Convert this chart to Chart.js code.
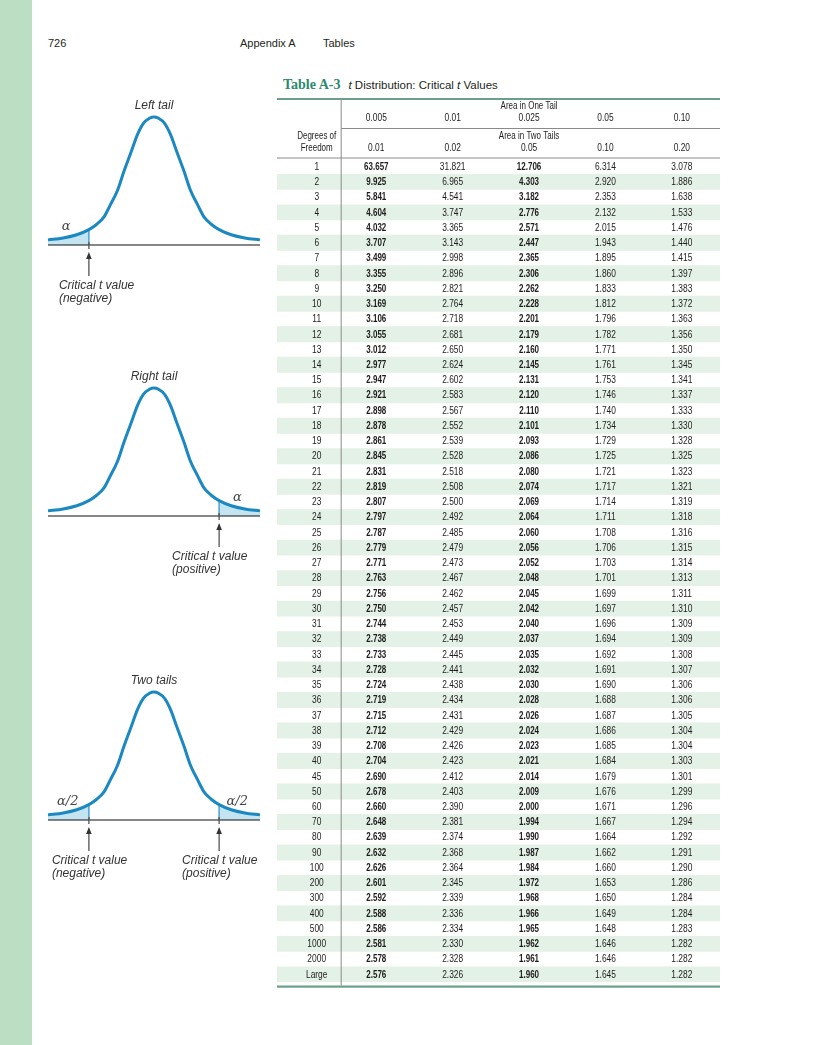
<!DOCTYPE html>
<html>
<head>
<meta charset="utf-8">
<script src="https://cdn.jsdelivr.net/npm/chart.js@4.4.1/dist/chart.umd.min.js"></script>
<style>
body { margin: 0; width: 816px; height: 1045px; position: relative; background: #fff; overflow: hidden;
       font-family: "Liberation Sans", Arial, sans-serif; color: #231f20; }
#strip { position: absolute; left: 0; top: 0; width: 32px; height: 1045px; background: #bcdfc3; }
.hdr { position: absolute; top: 37px; font-size: 11px; }
#title { position: absolute; left: 283px; top: 77px; font-size: 11.5px; white-space: nowrap; }
#title b { font-family: "Liberation Serif", serif; color: #2b8a6c; font-size: 14px; margin-right: 8px; }
canvas { position: absolute; }
</style>
</head>
<body>
<div id="strip"></div>
<div class="hdr" style="left:48px">726</div>
<div class="hdr" style="left:240px">Appendix A</div>
<div class="hdr" style="left:323px">Tables</div>
<div id="title"><b>Table A-3</b><i>t</i> Distribution: Critical <i>t</i> Values</div>

<canvas id="leftTailChart" width="230" height="215" style="left:40px;top:95px"></canvas>
<canvas id="rightTailChart" width="230" height="215" style="left:40px;top:366px"></canvas>
<canvas id="twoTailChart" width="230" height="215" style="left:40px;top:670px"></canvas>
<canvas id="tTableChart" width="460" height="905" style="left:270px;top:90px"></canvas>

<script>
// bell curve (relative height, peak = 1)
const curveX = [-3.5, -3.0, -2.55, -2.15, -1.9, -1.65, -1.45, -1.2, -1.0, -0.75, -0.55, -0.35, -0.15, 0,
                0.15, 0.35, 0.55, 0.75, 1.0, 1.2, 1.45, 1.65, 1.9, 2.15, 2.55, 3.0, 3.5];
const curveY = [0.04, 0.055, 0.08, 0.12, 0.16, 0.22, 0.31, 0.43, 0.57, 0.73, 0.86, 0.95, 0.99, 1.0,
                0.99, 0.95, 0.86, 0.73, 0.57, 0.43, 0.31, 0.22, 0.16, 0.12, 0.08, 0.055, 0.04];
const critX = 2.15;
const critY = 0.12;

// table A-3
const oneTail = ['0.005', '0.01', '0.025', '0.05', '0.10'];
const twoTails = ['0.01', '0.02', '0.05', '0.10', '0.20'];
const dfLabels = ['1','2','3','4','5','6','7','8','9','10','11','12','13','14','15','16','17','18','19','20',
                  '21','22','23','24','25','26','27','28','29','30','31','32','33','34','35','36','37','38','39','40',
                  '45','50','60','70','80','90','100','200','300','400','500','1000','2000','Large'];
const t005 = [63.657, 9.925, 5.841, 4.604, 4.032, 3.707, 3.499, 3.355, 3.250, 3.169, 3.106, 3.055, 3.012, 2.977,
              2.947, 2.921, 2.898, 2.878, 2.861, 2.845, 2.831, 2.819, 2.807, 2.797, 2.787, 2.779, 2.771, 2.763,
              2.756, 2.750, 2.744, 2.738, 2.733, 2.728, 2.724, 2.719, 2.715, 2.712, 2.708, 2.704, 2.690, 2.678,
              2.660, 2.648, 2.639, 2.632, 2.626, 2.601, 2.592, 2.588, 2.586, 2.581, 2.578, 2.576];
const t01 = [31.821, 6.965, 4.541, 3.747, 3.365, 3.143, 2.998, 2.896, 2.821, 2.764, 2.718, 2.681, 2.650, 2.624,
             2.602, 2.583, 2.567, 2.552, 2.539, 2.528, 2.518, 2.508, 2.500, 2.492, 2.485, 2.479, 2.473, 2.467,
             2.462, 2.457, 2.453, 2.449, 2.445, 2.441, 2.438, 2.434, 2.431, 2.429, 2.426, 2.423, 2.412, 2.403,
             2.390, 2.381, 2.374, 2.368, 2.364, 2.345, 2.339, 2.336, 2.334, 2.330, 2.328, 2.326];
const t025 = [12.706, 4.303, 3.182, 2.776, 2.571, 2.447, 2.365, 2.306, 2.262, 2.228, 2.201, 2.179, 2.160, 2.145,
              2.131, 2.120, 2.110, 2.101, 2.093, 2.086, 2.080, 2.074, 2.069, 2.064, 2.060, 2.056, 2.052, 2.048,
              2.045, 2.042, 2.040, 2.037, 2.035, 2.032, 2.030, 2.028, 2.026, 2.024, 2.023, 2.021, 2.014, 2.009,
              2.000, 1.994, 1.990, 1.987, 1.984, 1.972, 1.968, 1.966, 1.965, 1.962, 1.961, 1.960];
const t05 = [6.314, 2.920, 2.353, 2.132, 2.015, 1.943, 1.895, 1.860, 1.833, 1.812, 1.796, 1.782, 1.771, 1.761,
             1.753, 1.746, 1.740, 1.734, 1.729, 1.725, 1.721, 1.717, 1.714, 1.711, 1.708, 1.706, 1.703, 1.701,
             1.699, 1.697, 1.696, 1.694, 1.692, 1.691, 1.690, 1.688, 1.687, 1.686, 1.685, 1.684, 1.679, 1.676,
             1.671, 1.667, 1.664, 1.662, 1.660, 1.653, 1.650, 1.649, 1.648, 1.646, 1.646, 1.645];
const t10 = [3.078, 1.886, 1.638, 1.533, 1.476, 1.440, 1.415, 1.397, 1.383, 1.372, 1.363, 1.356, 1.350, 1.345,
             1.341, 1.337, 1.333, 1.330, 1.328, 1.325, 1.323, 1.321, 1.319, 1.318, 1.316, 1.315, 1.314, 1.313,
             1.311, 1.310, 1.309, 1.309, 1.308, 1.307, 1.306, 1.306, 1.305, 1.304, 1.304, 1.303, 1.301, 1.299,
             1.296, 1.294, 1.292, 1.291, 1.290, 1.286, 1.284, 1.284, 1.283, 1.282, 1.282, 1.282];
const tColumns = [t005, t01, t025, t05, t10];

const curveBlue = '#1b88c2';
const shadeBlue = '#c4e5f0';
const handFont = 'italic 12px "Liberation Sans", Arial, sans-serif';
const greekFont = 'italic 13px "DejaVu Serif", serif';

function curvePoints(filter) {
    return curveX.map((x, i) => ({ x: x, y: curveY[i] })).filter(p => filter(p.x));
}

function renderTailChart(id, cfg) {
    const ctx = document.getElementById(id).getContext('2d');
    const datasets = [{
        data: curvePoints(() => true),
        borderColor: curveBlue,
        borderWidth: 3,
        cubicInterpolationMode: 'monotone',
        order: 0
    }];
    cfg.sides.forEach(side => {
        datasets.push({
            data: curvePoints(x => side < 0 ? x <= -critX : x >= critX),
            borderWidth: 0,
            backgroundColor: shadeBlue,
            fill: 'origin',
            cubicInterpolationMode: 'monotone',
            order: 3
        });
        datasets.push({
            data: [{ x: side * critX, y: 0 }, { x: side * critX, y: critY }],
            borderColor: '#4aa3cf',
            borderWidth: 1.5,
            order: 2
        });
    });
    // baseline
    datasets.push({
        data: [{ x: -3.5, y: 0 }, { x: 3.5, y: 0 }],
        borderColor: '#111',
        borderWidth: 1.2,
        order: 1
    });

    const notes = {
        id: 'notes',
        afterDraw(chart) {
            const c = chart.ctx, xs = chart.scales.x, ys = chart.scales.y;
            const base = ys.getPixelForValue(0);
            c.save();
            c.fillStyle = '#333';
            c.font = handFont;
            c.textAlign = 'center';
            c.textBaseline = 'middle';
            c.fillText(cfg.title, xs.getPixelForValue(0), ys.getPixelForValue(1) - 11);
            c.font = greekFont;
            c.fillStyle = '#444';
            cfg.alphas.forEach(a => c.fillText(a.text, xs.getPixelForValue(a.x), base - 18));
            cfg.labels.forEach(l => {
                const px = xs.getPixelForValue(l.side * critX);
                c.strokeStyle = '#555';
                c.lineWidth = 1.3;
                c.beginPath();
                c.moveTo(px, base - 3); c.lineTo(px, base + 4);
                c.moveTo(px, base + 12); c.lineTo(px, base + 31);
                c.stroke();
                c.fillStyle = '#333';
                c.beginPath();
                c.moveTo(px, base + 7); c.lineTo(px - 2.8, base + 14); c.lineTo(px + 2.8, base + 14);
                c.closePath(); c.fill();
                c.font = handFont;
                c.textAlign = 'left';
                c.fillText(l.lines[0], px + l.dx, base + 41);
                c.fillText(l.lines[1], px + l.dx, base + 54);
                c.textAlign = 'center';
            });
            c.restore();
        }
    };

    new Chart(ctx, {
        type: 'line',
        data: { datasets: datasets },
        options: {
            responsive: false,
            animation: false,
            layout: { padding: { left: 8, right: 10, top: 22, bottom: 65 } },
            elements: { point: { radius: 0 }, line: { fill: false } },
            datasets: { line: { clip: false } },
            plugins: { legend: { display: false }, tooltip: { enabled: false } },
            scales: {
                x: { type: 'linear', min: -3.5, max: 3.5, display: false },
                y: { min: 0, max: 1, display: false }
            }
        },
        plugins: [notes]
    });
}

function renderTTable() {
    const ctx = document.getElementById('tTableChart').getContext('2d');
    const xMin = -1.3, xMax = 4.5;
    const dfCol = -0.78, divider = -0.46;

    // condensed look: taller font squeezed horizontally
    function txt(c, s, x, y, font, sx) {
        c.save();
        c.font = font;
        c.translate(x, y);
        c.scale(sx, 1);
        c.fillText(s, 0, 0);
        c.restore();
    }

    const cells = {
        id: 'cells',
        afterDatasetsDraw(chart) {
            const c = chart.ctx, xs = chart.scales.x, ys = chart.scales.y, a = chart.chartArea;
            const reg = '10px "Liberation Sans", Arial, sans-serif';
            const bold = 'bold 10px "Liberation Sans", Arial, sans-serif';
            const hdr = '10px "Liberation Sans", Arial, sans-serif';
            const vx = xs.getPixelForValue(divider);
            c.save();
            // rules
            c.fillStyle = '#6aa08a';
            c.fillRect(a.left, a.top - 61, a.right - a.left, 2);
            c.fillRect(a.left, a.bottom + 3.5, a.right - a.left, 2.2);
            c.strokeStyle = '#8a8a8a';
            c.lineWidth = 1;
            c.beginPath();
            c.moveTo(vx, a.top - 59); c.lineTo(vx, a.bottom + 3.5);
            c.moveTo(vx, a.top - 30.5); c.lineTo(a.right, a.top - 30.5);
            c.moveTo(a.left, a.top - 1); c.lineTo(a.right, a.top - 1);
            c.stroke();

            c.fillStyle = '#1e1b1c';
            c.textAlign = 'center';
            c.textBaseline = 'middle';
            const mid = xs.getPixelForValue(2);
            txt(c, 'Area in One Tail', mid, a.top - 52.5, hdr, 0.8);
            txt(c, 'Area in Two Tails', mid, a.top - 22.5, hdr, 0.8);
            txt(c, 'Degrees of', xs.getPixelForValue(dfCol), a.top - 22.5, hdr, 0.8);
            txt(c, 'Freedom', xs.getPixelForValue(dfCol), a.top - 10.5, hdr, 0.8);
            oneTail.forEach((s, k) => txt(c, s, xs.getPixelForValue(k), a.top - 41, hdr, 0.84));
            twoTails.forEach((s, k) => txt(c, s, xs.getPixelForValue(k), a.top - 10.5, hdr, 0.84));

            dfLabels.forEach((lab, i) => {
                const py = ys.getPixelForValue(i) + 0.5;
                txt(c, lab, xs.getPixelForValue(dfCol), py, reg, 0.84);
                tColumns.forEach((col, k) => {
                    const isBold = k === 0 || k === 2;
                    txt(c, col[i].toFixed(3), xs.getPixelForValue(k), py, isBold ? bold : reg, isBold ? 0.8 : 0.84);
                });
            });
            c.restore();
        }
    };

    new Chart(ctx, {
        type: 'bar',
        data: {
            labels: dfLabels,
            datasets: [{
                // row banding
                data: dfLabels.map((_, i) => i % 2 === 1 ? [xMin, xMax] : null),
                backgroundColor: '#e3f1e6',
                barPercentage: 1,
                categoryPercentage: 1
            }]
        },
        options: {
            indexAxis: 'y',
            responsive: false,
            animation: false,
            layout: { padding: { left: 7, right: 10, top: 69, bottom: 13 } },
            plugins: { legend: { display: false }, tooltip: { enabled: false } },
            scales: {
                x: { type: 'linear', min: xMin, max: xMax, display: false },
                y: { type: 'category', display: false }
            }
        },
        plugins: [cells]
    });
}

renderTailChart('leftTailChart', {
    title: 'Left tail',
    sides: [-1],
    alphas: [{ x: -2.9, text: 'α' }],
    labels: [{ side: -1, dx: -30, lines: ['Critical t value', '(negative)'] }]
});
renderTailChart('rightTailChart', {
    title: 'Right tail',
    sides: [1],
    alphas: [{ x: 2.75, text: 'α' }],
    labels: [{ side: 1, dx: -47, lines: ['Critical t value', '(positive)'] }]
});
renderTailChart('twoTailChart', {
    title: 'Two tails',
    sides: [-1, 1],
    alphas: [{ x: -2.85, text: 'α/2' }, { x: 2.75, text: 'α/2' }],
    labels: [
        { side: -1, dx: -37, lines: ['Critical t value', '(negative)'] },
        { side: 1, dx: -37, lines: ['Critical t value', '(positive)'] }
    ]
});
renderTTable();
</script>
</body>
</html>
